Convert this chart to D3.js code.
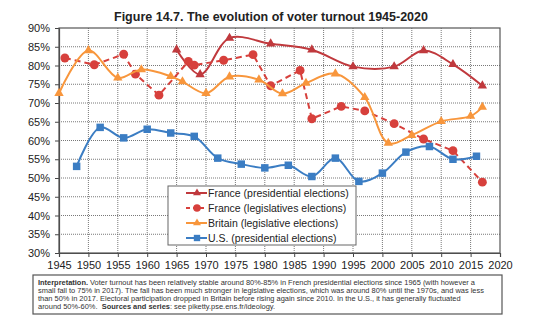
<!DOCTYPE html>
<html>
<head>
<meta charset="utf-8">
<script src="https://cdn.jsdelivr.net/npm/d3@7"></script>
<style>
  body { margin: 0; background: #fff; }
  svg { display: block; font-family: "Liberation Sans", Arial, sans-serif; }
</style>
</head>
<body>
<div id="app"></div>
<script>
// turnout series, in percent
let frPresYears = [1965, 1969, 1974, 1981, 1988, 1995, 2002, 2007, 2012, 2017];
let frPres = [84.2, 77.6, 87.3, 85.8, 84.2, 79.7, 79.7, 84.0, 80.3, 74.6];

let frLegYears = [1946, 1951, 1956, 1958, 1962, 1967, 1968, 1973, 1978, 1981, 1986, 1988, 1993, 1997, 2002, 2007, 2012, 2017];
let frLeg = [82.0, 80.2, 83.0, 77.7, 72.1, 81.1, 80.1, 81.4, 82.9, 74.6, 78.7, 65.8, 69.1, 67.9, 64.5, 60.4, 57.3, 48.9];

let ukYears = [1945, 1950, 1955, 1959, 1964, 1966, 1970, 1974, 1979, 1983, 1987, 1992, 1997, 2001, 2005, 2010, 2015, 2017];
let ukLeg = [72.6, 84.0, 76.7, 78.9, 77.1, 75.7, 72.6, 77.0, 76.2, 72.5, 75.3, 77.8, 71.5, 59.3, 61.4, 65.1, 66.5, 68.9];

let usYears = [1948, 1952, 1956, 1960, 1964, 1968, 1972, 1976, 1980, 1984, 1988, 1992, 1996, 2000, 2004, 2008, 2012, 2016];
let usPres = [53.1, 63.5, 60.7, 63.0, 62.0, 61.1, 55.3, 53.7, 52.7, 53.4, 50.4, 55.3, 49.1, 51.3, 56.9, 58.4, 55.0, 55.8];

let xTicks = d3.range(1945, 2021, 5);
let yTicks = d3.range(30, 91, 5);

let title = 'Figure 14.7. The evolution of voter turnout 1945-2020';
let noteLines = [
  ['Interpretation.', ' Voter turnout has been relatively stable around 80%-85% in French presidential elections since 1965 (with however a'],
  ['', 'small fall to 75% in 2017). The fall has been much stronger in legislative elections, which was around 80% until the 1970s, and was less'],
  ['', 'than 50% in 2017. Electoral participation dropped in Britain before rising again since 2010. In the U.S., it has generally fluctuated'],
  ['', 'around 50%-60%.  ', 'Sources and series', ': see piketty.pse.ens.fr/ideology.']
];

let series = [
  { name: 'France (presidential elections)', years: frPresYears, values: frPres, color: '#c0393d', marker: 'triangle', dash: null, curve: d3.curveCatmullRom },
  { name: 'France (legislatives elections)', years: frLegYears, values: frLeg, color: '#d7403c', marker: 'circle', dash: '6,4', curve: d3.curveLinear },
  { name: 'Britain (legislative elections)', years: ukYears, values: ukLeg, color: '#f8963c', marker: 'triangle', dash: null, curve: d3.curveCatmullRom },
  { name: 'U.S. (presidential elections)', years: usYears, values: usPres, color: '#3b7dc3', marker: 'square', dash: null, curve: d3.curveCatmullRom }
];

let W = 540, H = 321;
let margin = { top: 28, right: 40, bottom: 68, left: 59 };
let width = 500 - margin.left;
let height = 253 - margin.top;

let svg = d3.select('#app').append('svg')
  .attr('width', W)
  .attr('height', H);

svg.append('rect').attr('width', W).attr('height', H).attr('fill', '#fff');

svg.append('text')
  .attr('x', 271)
  .attr('y', 21)
  .attr('text-anchor', 'middle')
  .style('font-size', '12.5px')
  .style('font-weight', 'bold')
  .attr('fill', '#222')
  .text(title);

let x = d3.scaleLinear().domain([1945, 2020]).range([0, width]);
let y = d3.scaleLinear().domain([30, 90]).range([height, 0]);

let g = svg.append('g')
  .attr('transform', `translate(${margin.left}, ${margin.top})`);

// dotted grid
g.append('g')
  .selectAll('line')
  .data(xTicks.slice(1, -1))
  .enter().append('line')
    .attr('x1', d => x(d)).attr('x2', d => x(d))
    .attr('y1', 0).attr('y2', height)
    .attr('stroke', '#555')
    .attr('stroke-width', 0.8)
    .attr('stroke-dasharray', '1,1');

g.append('g')
  .selectAll('line')
  .data(yTicks.slice(1, -1))
  .enter().append('line')
    .attr('x1', 0).attr('x2', width)
    .attr('y1', d => y(d)).attr('y2', d => y(d))
    .attr('stroke', '#555')
    .attr('stroke-width', 0.8)
    .attr('stroke-dasharray', '1,1');

// axes
let yAxis = d3.axisLeft(y)
  .tickValues(yTicks)
  .tickSize(4)
  .tickPadding(5)
  .tickFormat(d => d + '%');

let xAxis = d3.axisBottom(x)
  .tickValues(xTicks)
  .tickSize(4)
  .tickPadding(4)
  .tickFormat(d3.format('d'));

let yG = g.append('g').call(yAxis);
let xG = g.append('g').attr('transform', `translate(0, ${height})`).call(xAxis);

[yG, xG].forEach(a => {
  a.selectAll('path').attr('stroke', '#444').attr('stroke-width', 1.2);
  a.selectAll('line').attr('stroke', '#444');
  a.selectAll('text').attr('fill', '#222').style('font-size', '11px').style('font-family', '"Liberation Sans", Arial, sans-serif');
});

// frame
g.append('rect')
  .attr('width', width)
  .attr('height', height)
  .attr('fill', 'none')
  .attr('stroke', '#555')
  .attr('stroke-width', 1.2);

let tri = d3.symbol().type(d3.symbolTriangle).size(38);
let sq = d3.symbol().type(d3.symbolSquare).size(56);
let circ = d3.symbol().type(d3.symbolCircle).size(62);

function markerPath(kind) {
  if (kind === 'triangle') return tri();
  if (kind === 'square') return sq();
  return circ();
}

series.forEach(s => {
  let pts = s.years.map((yr, i) => [yr, s.values[i]]);
  let line = d3.line()
    .x(d => x(d[0]))
    .y(d => y(d[1]))
    .curve(s.curve);

  g.append('path')
    .datum(pts)
    .attr('d', line)
    .attr('fill', 'none')
    .attr('stroke', s.color)
    .attr('stroke-width', 2)
    .attr('stroke-dasharray', s.dash);

  g.append('g')
    .selectAll('path')
    .data(pts)
    .enter().append('path')
      .attr('d', markerPath(s.marker))
      .attr('transform', d => `translate(${x(d[0])}, ${y(d[1])})`)
      .attr('fill', s.color);
});

// legend
let legend = svg.append('g').attr('transform', 'translate(168, 186)');

legend.append('rect')
  .attr('width', 188)
  .attr('height', 59)
  .attr('fill', '#fff')
  .attr('stroke', '#666')
  .attr('stroke-width', 1);

series.forEach((s, i) => {
  let row = legend.append('g').attr('transform', `translate(0, ${7 + i * 15})`);
  row.append('line')
    .attr('x1', 18).attr('x2', 39)
    .attr('stroke', s.color)
    .attr('stroke-width', 2)
    .attr('stroke-dasharray', s.dash ? '4,3' : null);
  row.append('path')
    .attr('d', markerPath(s.marker))
    .attr('transform', 'translate(29, 0) scale(0.85)')
    .attr('fill', s.color);
  row.append('text')
    .attr('x', 40)
    .attr('y', 4)
    .attr('fill', '#222')
    .style('font-size', '10.5px')
    .text(s.name);
});

// interpretation box
let note = svg.append('g').attr('transform', 'translate(33, 275)');

note.append('rect')
  .attr('width', 469)
  .attr('height', 39)
  .attr('fill', '#fff')
  .attr('stroke', '#555')
  .attr('stroke-width', 1.2);

noteLines.forEach((parts, i) => {
  let t = note.append('text')
    .attr('x', 5)
    .attr('y', 10 + i * 8)
    .attr('fill', '#333')
    .style('font-size', '7.45px');
  parts.forEach((p, j) => {
    if (!p) return;
    let bold = (i === 0 && j === 0) || (i === 3 && j === 2);
    t.append('tspan')
      .style('font-weight', bold ? 'bold' : 'normal')
      .attr('xml:space', 'preserve')
      .text(p);
  });
});
</script>
</body>
</html>
